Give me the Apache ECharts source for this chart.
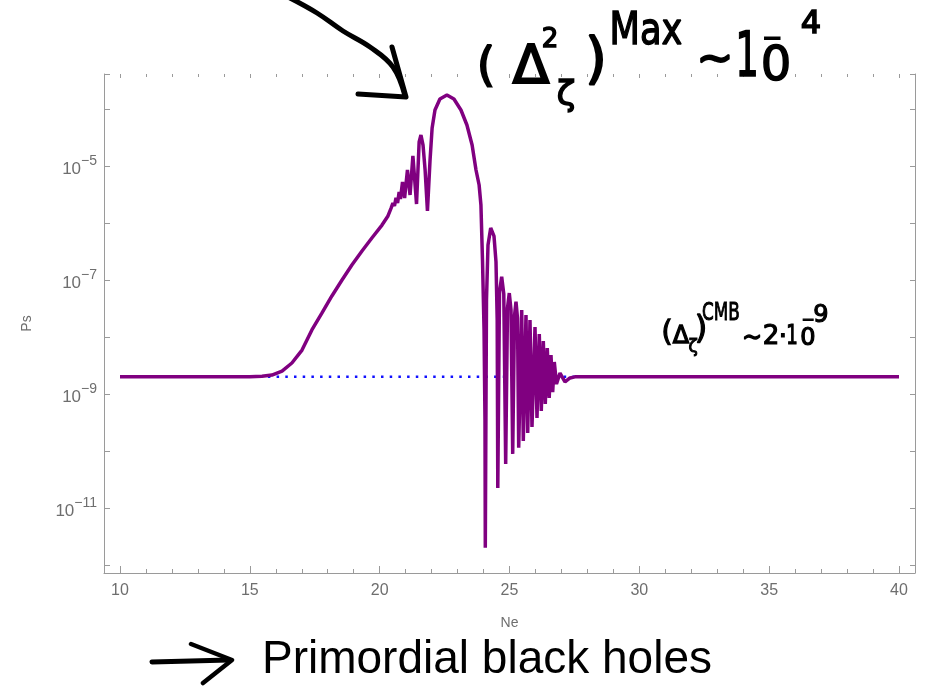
<!DOCTYPE html>
<html>
<head>
<meta charset="utf-8">
<script src="https://cdn.jsdelivr.net/npm/echarts@6/dist/echarts.min.js"></script>
<style>
html,body{margin:0;padding:0;background:#fff}
#main{width:930px;height:686px}
</style>
</head>
<body>
<div id="main"></div>
<script>
// Ne (e-folds) and power spectrum Ps
var neVals = [10, 15.0, 15.47, 15.85, 16.24, 16.62, 17.01, 17.39, 17.78, 18.16, 18.55, 18.93, 19.32, 19.70, 20.09, 20.32,
  20.44, 20.51, 20.57, 20.63, 20.69, 20.75, 20.80, 20.88, 20.96, 21.07, 21.17, 21.28, 21.42,
  21.52, 21.59, 21.67, 21.75, 21.84,
  21.94, 22.02, 22.13, 22.32, 22.59, 22.86, 23.13, 23.36, 23.56, 23.71, 23.83, 23.90, 23.96, 24.02, 24.056, 24.068,
  24.114, 24.172, 24.276, 24.403, 24.480, 24.526, 24.549,
  24.615, 24.699, 24.780, 24.853, 24.923, 24.992, 25.058, 25.123, 25.192, 25.250, 25.308, 25.354,
  25.470, 25.531, 25.635, 25.701, 25.789, 25.866, 25.982, 26.059, 26.147, 26.224, 26.302, 26.378,
  26.455, 26.529, 26.598, 26.663, 26.725, 26.810, 26.945, 27.137, 27.330, 27.522, 40];
var psVals = [2e-9, 2e-9, 2.05e-9, 2.15e-9, 2.53e-9, 3.5e-9, 5.9e-9, 1.33e-8, 2.64e-8, 5.24e-8, 1.0e-7, 1.83e-7, 3.23e-7, 5.46e-7, 9.2e-7, 1.33e-6,
  1.83e-6, 2.24e-6, 1.99e-6, 2.75e-6, 2.24e-6, 3.5e-6, 2.64e-6, 5.24e-6, 2.75e-6, 8.5e-6, 3.1e-6, 1.5e-5, 2.15e-6,
  2.64e-5, 3.5e-5, 2.33e-5, 8.5e-6, 1.63e-6,
  1.27e-5, 4.64e-5, 9.6e-5, 1.5e-4, 1.76e-4, 1.5e-4, 9.6e-5, 5.24e-5, 2.33e-5, 8.5e-6, 4.64e-6, 2.07e-6, 2.24e-7, 1.33e-8, 3.5e-10, 2.0e-12,
  4.46e-8, 4.11e-7, 8.2e-7, 5.9e-7, 2.07e-7, 1.99e-8, 2.24e-11,
  6.15e-8, 1.14e-7, 5.68e-8, 5.9e-11, 3.23e-8, 5.9e-8, 2.98e-8, 8.9e-11, 2.33e-8, 4.16e-8, 2.15e-8, 1.14e-10,
  2.98e-8, 1.5e-10, 2.43e-8, 2.07e-10, 1.99e-8, 2.64e-10, 1.5e-8, 3.79e-10, 1.13e-8, 5.04e-10, 8.5e-9, 6.68e-10,
  6.41e-9, 8.5e-10, 4.83e-9, 1.08e-9, 3.64e-9, 1.5e-9, 2.33e-9, 1.63e-9, 1.91e-9, 2.0e-9, 2.0e-9];

// reference CMB level (blue dotted)
var refNe = [10, 40];
var refPs = [2e-9, 2e-9];

var yLabelPowers = [-11, -9, -7, -5];

var curve = neVals.map(function (n, i) { return [n, psVals[i]]; });
var refLine = refNe.map(function (n, i) { return [n, refPs[i]]; });

var frame = '#9a9a9a';
var labelColor = '#6e6e6e';

function yLabel(v) {
  var e = Math.log10(v);
  var r = Math.round(e);
  if (Math.abs(e - r) > 1e-6 || yLabelPowers.indexOf(r) < 0) return '';
  return '{b|10}{s|\u2212' + (-r) + '}';
}

function hw(text, x, y, size, opt) {
  opt = opt || {};
  return {
    type: 'text', x: x, y: y, z: 100,
    scaleX: opt.sx || 1,
    style: {
      text: text, fontSize: size, fontFamily: 'DejaVu Sans', fill: '#000',
      stroke: '#000', lineWidth: opt.lw || 1.2,
      align: 'center', verticalAlign: 'middle'
    }
  };
}

var chart = echarts.init(document.getElementById('main'));
chart.setOption({
  animation: false,
  backgroundColor: '#fff',
  grid: { left: 104, right: 15, top: 74, bottom: 113, outerBoundsMode: 'none' },
  xAxis: [{
    type: 'value', min: 9.384, max: 40.616, splitNumber: 6,
    name: 'Ne', nameLocation: 'middle', nameGap: 43,
    nameTextStyle: { color: labelColor, fontSize: 14, fontFamily: 'Liberation Sans' },
    axisLine: { lineStyle: { color: frame, width: 1 } },
    axisTick: { inside: true, length: 7, lineStyle: { color: frame } },
    minorTick: { show: true, splitNumber: 5, length: 4, lineStyle: { color: frame } },
    splitLine: { show: false },
    axisLabel: {
      color: labelColor, fontSize: 16, fontFamily: 'Liberation Sans', margin: 10,
      formatter: function (v) { return Math.abs(v - Math.round(v)) < 1e-6 ? String(Math.round(v)) : ''; }
    }
  }, {
    type: 'value', position: 'top', min: 9.384, max: 40.616, splitNumber: 6,
    axisLine: { show: false },
    axisTick: { inside: true, length: 4, lineStyle: { color: frame } },
    minorTick: { show: true, splitNumber: 5, length: 3, lineStyle: { color: frame } },
    splitLine: { show: false },
    axisLabel: { show: false }
  }],
  yAxis: [{
    type: 'log', logBase: 10, min: 7.24e-13, max: 4.11e-4,
    name: 'Ps', nameLocation: 'middle', nameGap: 70,
    nameTextStyle: { color: labelColor, fontSize: 14, fontFamily: 'Liberation Sans' },
    axisLine: { lineStyle: { color: frame, width: 1 } },
    axisTick: { inside: true, length: 6, lineStyle: { color: frame } },
    splitLine: { show: false },
    axisLabel: {
      margin: 7, formatter: yLabel,
      rich: {
        b: { fontSize: 17, color: labelColor, fontFamily: 'Liberation Sans', verticalAlign: 'bottom' },
        s: { fontSize: 14, color: labelColor, fontFamily: 'Liberation Sans', verticalAlign: 'top', padding: [0, 0, 10, 0] }
      }
    }
  }, {
    type: 'log', logBase: 10, position: 'right', min: 7.24e-13, max: 4.11e-4,
    axisLine: { lineStyle: { color: frame, width: 1 } },
    axisTick: { inside: true, length: 5, lineStyle: { color: frame } },
    splitLine: { show: false },
    axisLabel: { show: false }
  }],
  series: [{
    type: 'line', data: refLine, showSymbol: false, silent: true, z: 2,
    lineStyle: { color: '#1010ff', width: 2.5, type: [2.5, 6.2] }
  }, {
    type: 'line', data: curve, showSymbol: false, silent: true, z: 3,
    lineStyle: { color: '#800080', width: 3.5 }
  }],
  graphic: [
    // hand-drawn arrow to the peak
    { type: 'polyline', z: 100, shape: { points: [[290, -2], [317, 13], [343, 31], [370, 47], [393, 67], [405, 96]], smooth: 0.4 },
      style: { stroke: '#000', lineWidth: 5, fill: null, lineCap: 'round', lineJoin: 'round' } },
    { type: 'polyline', z: 100, shape: { points: [[392, 47], [406, 97], [358, 94]] },
      style: { stroke: '#000', lineWidth: 5, fill: null, lineCap: 'round', lineJoin: 'round' } },
    hw('(', 486, 68, 46, { lw: 2 }),
    hw('\u0394', 531, 69, 54, { lw: 2 }),
    hw('2', 550, 40, 26, { lw: 1.5 }),
    hw('\u03b6', 566, 96, 34, { lw: 1.5 }),
    hw(')', 596, 62, 56, { lw: 2 }),
    hw('Max', 646, 33, 44, { lw: 1.5, sx: 0.8 }),
    hw('~', 715, 62, 44, { lw: 2 }),
    hw('1', 747, 60, 62, { lw: 1.5, sx: 0.6 }),
    hw('0', 776, 68, 48, { lw: 1.5 }),
    hw('\u2212', 772, 40, 24, { lw: 1.5 }),
    hw('4', 811, 25, 32, { lw: 1.5 }),
    // CMB annotation
    hw('(', 667, 334, 28, { lw: 1.3 }),
    hw('\u0394', 681, 337, 24, { lw: 1.3 }),
    hw('\u03b6', 693, 348, 17, { lw: 1 }),
    hw(')', 701, 330, 32, { lw: 1.3 }),
    hw('CMB', 721, 314, 24, { lw: 1, sx: 0.7 }),
    hw('~', 752, 339, 24, { lw: 1.3 }),
    hw('2', 771, 337, 26, { lw: 1.2 }),
    hw('\u00b7', 783, 338, 26, { lw: 1.2 }),
    hw('1', 792, 337, 26, { lw: 1.2, sx: 0.7 }),
    hw('0', 808, 339, 24, { lw: 1.2 }),
    hw('\u2212', 808, 321, 16, { lw: 1 }),
    hw('9', 821, 316, 24, { lw: 1.2 }),
    // bottom arrow + caption
    { type: 'polyline', z: 100, shape: { points: [[152, 662], [229, 660]] },
      style: { stroke: '#000', lineWidth: 5, fill: null, lineCap: 'round' } },
    { type: 'polyline', z: 100, shape: { points: [[191, 644], [232, 660], [203, 683]] },
      style: { stroke: '#000', lineWidth: 4.5, fill: null, lineCap: 'round', lineJoin: 'round' } },
    { type: 'text', x: 262, y: 660, z: 100,
      style: { text: 'Primordial black holes', fontSize: 46, fontFamily: 'Liberation Sans', fill: '#000',
        align: 'left', verticalAlign: 'middle' } }
  ]
});
</script>
</body>
</html>
